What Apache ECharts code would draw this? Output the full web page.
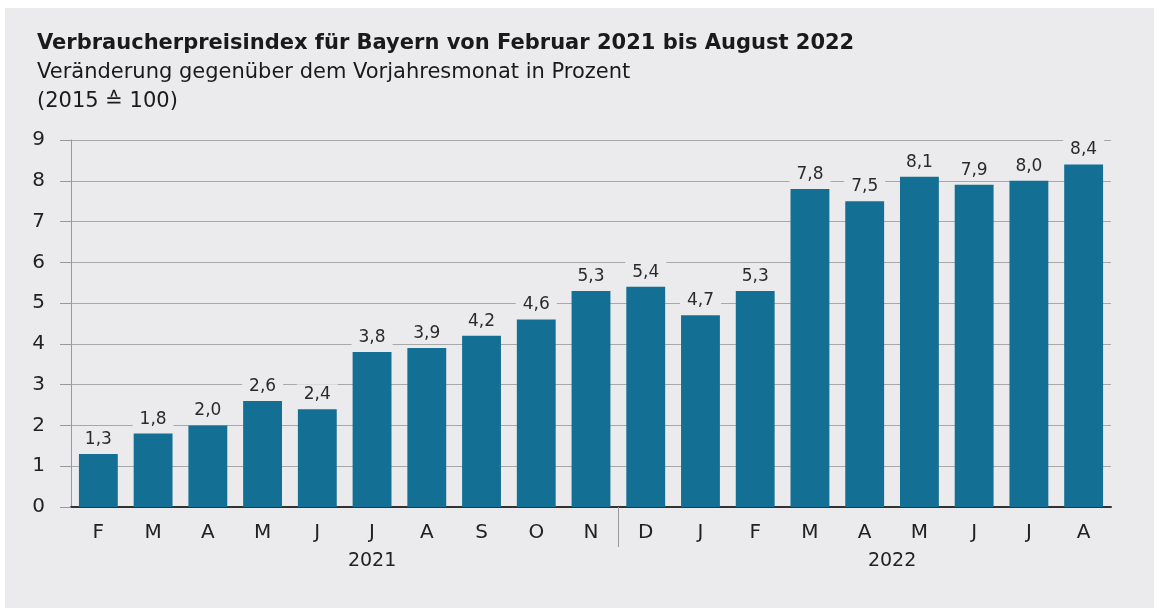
<!DOCTYPE html>
<html>
<head>
<meta charset="utf-8">
<script src="https://cdn.jsdelivr.net/npm/echarts@6/dist/echarts.min.js"></script>
<style>
  html, body { margin: 0; padding: 0; background: #ffffff; }
  #panel { position: absolute; left: 5px; top: 8px; width: 1149px; height: 600px; background: #ebebed; }
  #chart { width: 1149px; height: 600px; }
</style>
</head>
<body>
<div id="panel"><div id="chart"></div></div>
<script>
// Monate Feb 2021 - Aug 2022
const months = ['F', 'M', 'A', 'M', 'J', 'J', 'A', 'S', 'O', 'N', 'D', 'J', 'F', 'M', 'A', 'M', 'J', 'J', 'A']
const values = [1.3, 1.8, 2.0, 2.6, 2.4, 3.8, 3.9, 4.2, 4.6, 5.3, 5.4, 4.7, 5.3, 7.8, 7.5, 8.1, 7.9, 8.0, 8.4]
const yearPos = [5.5, 15]
const yearLabels = ['2021', '2022']
const yearBreak = 10 // Trennstrich zwischen N und D

const font = '"DejaVu Sans", "Liberation Sans", sans-serif'
const chart = echarts.init(document.getElementById('chart'))

chart.setOption({
  backgroundColor: 'transparent',
  textStyle: { fontFamily: font },
  title: {
    left: 27,
    top: 17,
    text: '{a|Verbraucherpreisindex für Bayern von Februar 2021 bis August 2022}\n{b|Veränderung gegenüber dem Vorjahresmonat in Prozent}\n{b|(2015 ≙ 100)}',
    textStyle: {
      rich: {
        a: { fontFamily: font, fontSize: 21, fontWeight: 'bold', color: '#1a1a1a', lineHeight: 28 },
        b: { fontFamily: font, fontSize: 21, fontWeight: 'normal', color: '#1a1a1a', lineHeight: 29 }
      }
    }
  },
  grid: { left: 66, right: 43, top: 132, bottom: 101 },
  xAxis: [
    {
      type: 'category',
      data: months,
      axisLine: { lineStyle: { color: '#333', width: 2 } },
      axisTick: { alignWithLabel: true, length: 3, lineStyle: { color: '#555' } },
      axisLabel: { color: '#222', fontSize: 20, margin: 16 }
    },
    {
      type: 'value',
      min: 0,
      max: months.length,
      position: 'bottom',
      axisLine: { show: false },
      axisTick: { show: true, length: 40, customValues: [yearBreak], lineStyle: { color: '#999' } },
      splitLine: { show: false },
      axisLabel: {
        color: '#222',
        fontSize: 19,
        margin: 45,
        customValues: yearPos,
        formatter: (v) => {
          const i = yearPos.indexOf(v)
          return i >= 0 ? yearLabels[i] : ''
        }
      }
    }
  ],
  yAxis: {
    type: 'value',
    min: 0,
    max: 9,
    interval: 1,
    axisLine: { show: true, lineStyle: { color: '#999' } },
    axisTick: { show: true, length: 11, lineStyle: { color: '#999' } },
    axisLabel: { color: '#222', fontSize: 20, margin: 26 },
    splitLine: { lineStyle: { color: '#a8a8a8' } }
  },
  series: [{
    type: 'bar',
    data: values,
    barWidth: '71%',
    itemStyle: { color: '#136f93' },
    label: {
      show: true,
      position: 'top',
      distance: 4,
      color: '#2a2a2a',
      fontSize: 17,
      backgroundColor: '#ebebed',
      padding: [2, 7],
      formatter: (p) => p.value.toFixed(1).replace('.', ',')
    }
  }]
})
</script>
</body>
</html>
